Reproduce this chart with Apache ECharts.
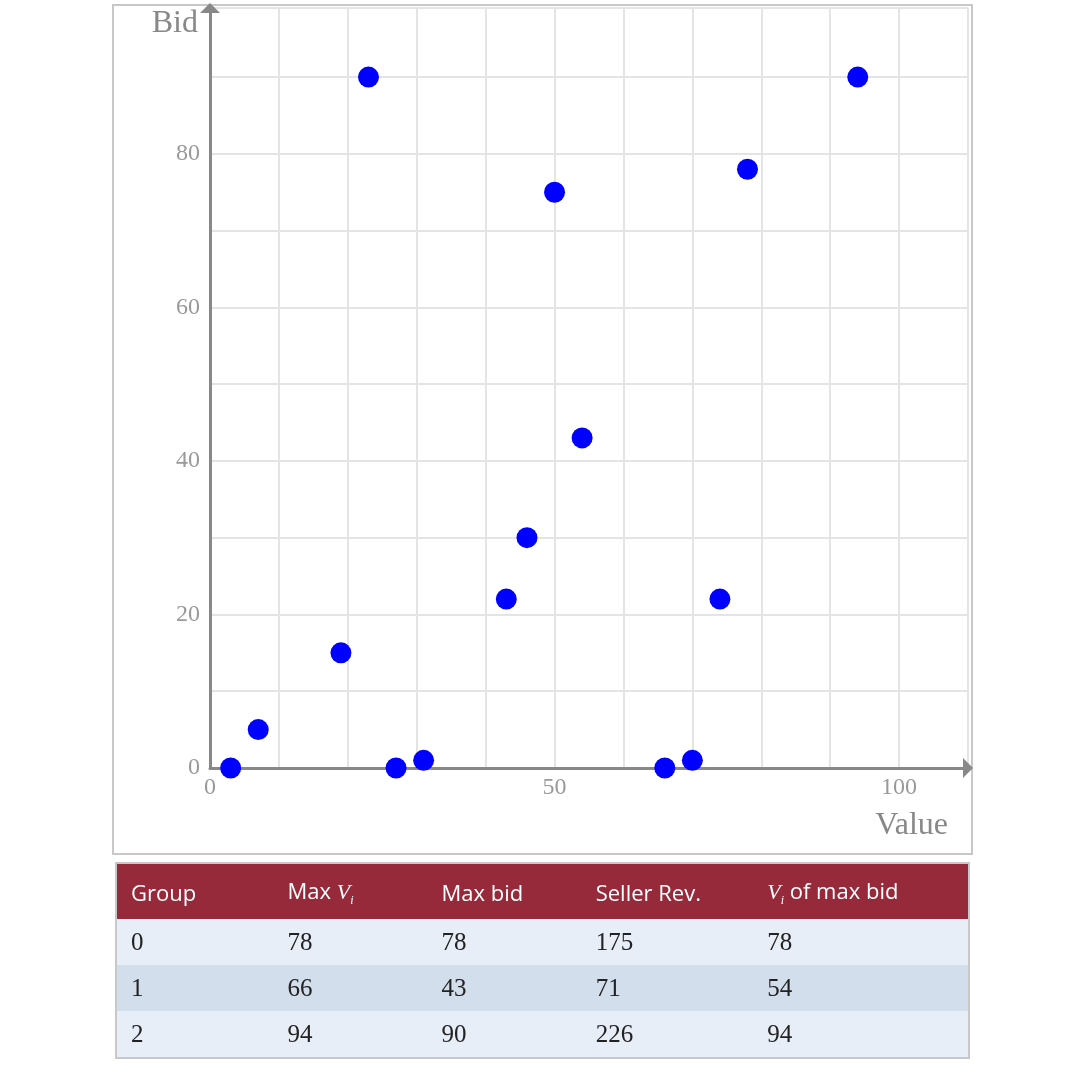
<!DOCTYPE html>
<html><head><meta charset="utf-8">
<script src="https://cdn.jsdelivr.net/npm/echarts@6/dist/echarts.min.js"></script>
<style>
body{margin:0;background:#fff;}
#c{position:absolute;left:0;top:0;width:1080px;height:1080px;}
#box{position:absolute;left:112px;top:4px;width:857px;height:847px;border:2px solid #c8c8c8;}
table{position:absolute;left:115px;top:862px;width:855px;border-collapse:collapse;border:2px solid #c8c8c8;}
th{background:#962a3a;color:#fff;font-family:"Open Sans";font-weight:normal;font-size:22px;text-align:left;height:55px;padding:0 0 0 14px;}
td{font-family:"Liberation Serif";font-size:25px;color:#222;height:46px;padding:0 0 0 14px;}
tr.r0 td,tr.r2 td{background:#e8eef7;} tr.r1 td{background:#d3deed;}
i{font-family:"Liberation Serif";}
</style></head><body>
<div id="box"></div>
<div id="c"></div>
<table id="t"></table>
<script>
const values=[3,7,19,23,27,31,43,46,50,54,66,70,74,78,94];
const bids=[0,5,15,90,0,1,22,30,75,43,0,1,22,78,90];
const headers=['Group','Max <i>V<sub style="font-size:12px">i</sub></i>','Max bid','Seller Rev.','<i>V<sub style="font-size:12px">i</sub></i> of max bid'];
const rows=[[0,78,78,175,78],[1,66,43,71,54],[2,94,90,226,94]];
const xLabels=[0,50,100];
const yLabels=[0,20,40,60,80];
const t=document.getElementById('t');
t.innerHTML='<tr>'+headers.map((h,i)=>'<th style="width:'+[152,152,152,170,220][i]+'px">'+h+'</th>').join('')+'</tr>'+
 rows.map((r,i)=>'<tr class="r'+i+'">'+r.map(v=>'<td>'+v+'</td>').join('')+'</tr>').join('');
const chart=echarts.init(document.getElementById('c'));
const arrow='path://M0,10 L10,0 L20,10';
chart.setOption({
 animation:false,
 grid:{left:210,right:112,top:8,bottom:312},
 xAxis:{type:'value',min:0,max:110,interval:10,
  name:'Value',nameLocation:'end',nameGap:0,
  nameTextStyle:{fontFamily:'Liberation Serif',fontSize:32,color:'#888',align:'right',verticalAlign:'top',padding:[42,20,0,0]},
  axisLine:{show:true,onZero:false,lineStyle:{color:'#888',width:3},symbol:['none',arrow],symbolSize:[22,10]},
  axisTick:{show:false},
  splitLine:{show:true,lineStyle:{color:'#e4e4e4',width:2}},
  axisLabel:{fontFamily:'Liberation Serif',fontSize:24,color:'#999',margin:8,showMaxLabel:false,
   formatter:v=>xLabels.includes(v)?String(v):''}},
 yAxis:{type:'value',min:0,max:99,interval:10,
  name:'Bid',nameLocation:'end',nameGap:0,
  nameTextStyle:{fontFamily:'Liberation Serif',fontSize:32,color:'#888',align:'right',verticalAlign:'top',padding:[0,12,0,0]},
  axisLine:{show:true,onZero:false,lineStyle:{color:'#888',width:3},symbol:['none',arrow],symbolSize:[22,10]},
  axisTick:{show:false},
  splitLine:{show:true,lineStyle:{color:'#e4e4e4',width:2}},
  axisLabel:{fontFamily:'Liberation Serif',fontSize:24,color:'#999',margin:10,
   formatter:v=>yLabels.includes(v)?String(v):''}},
 series:[{type:'scatter',symbolSize:21,itemStyle:{color:'#0000ff',opacity:1},
  data:values.map((v,i)=>[v,bids[i]])}]
});
</script></body></html>
